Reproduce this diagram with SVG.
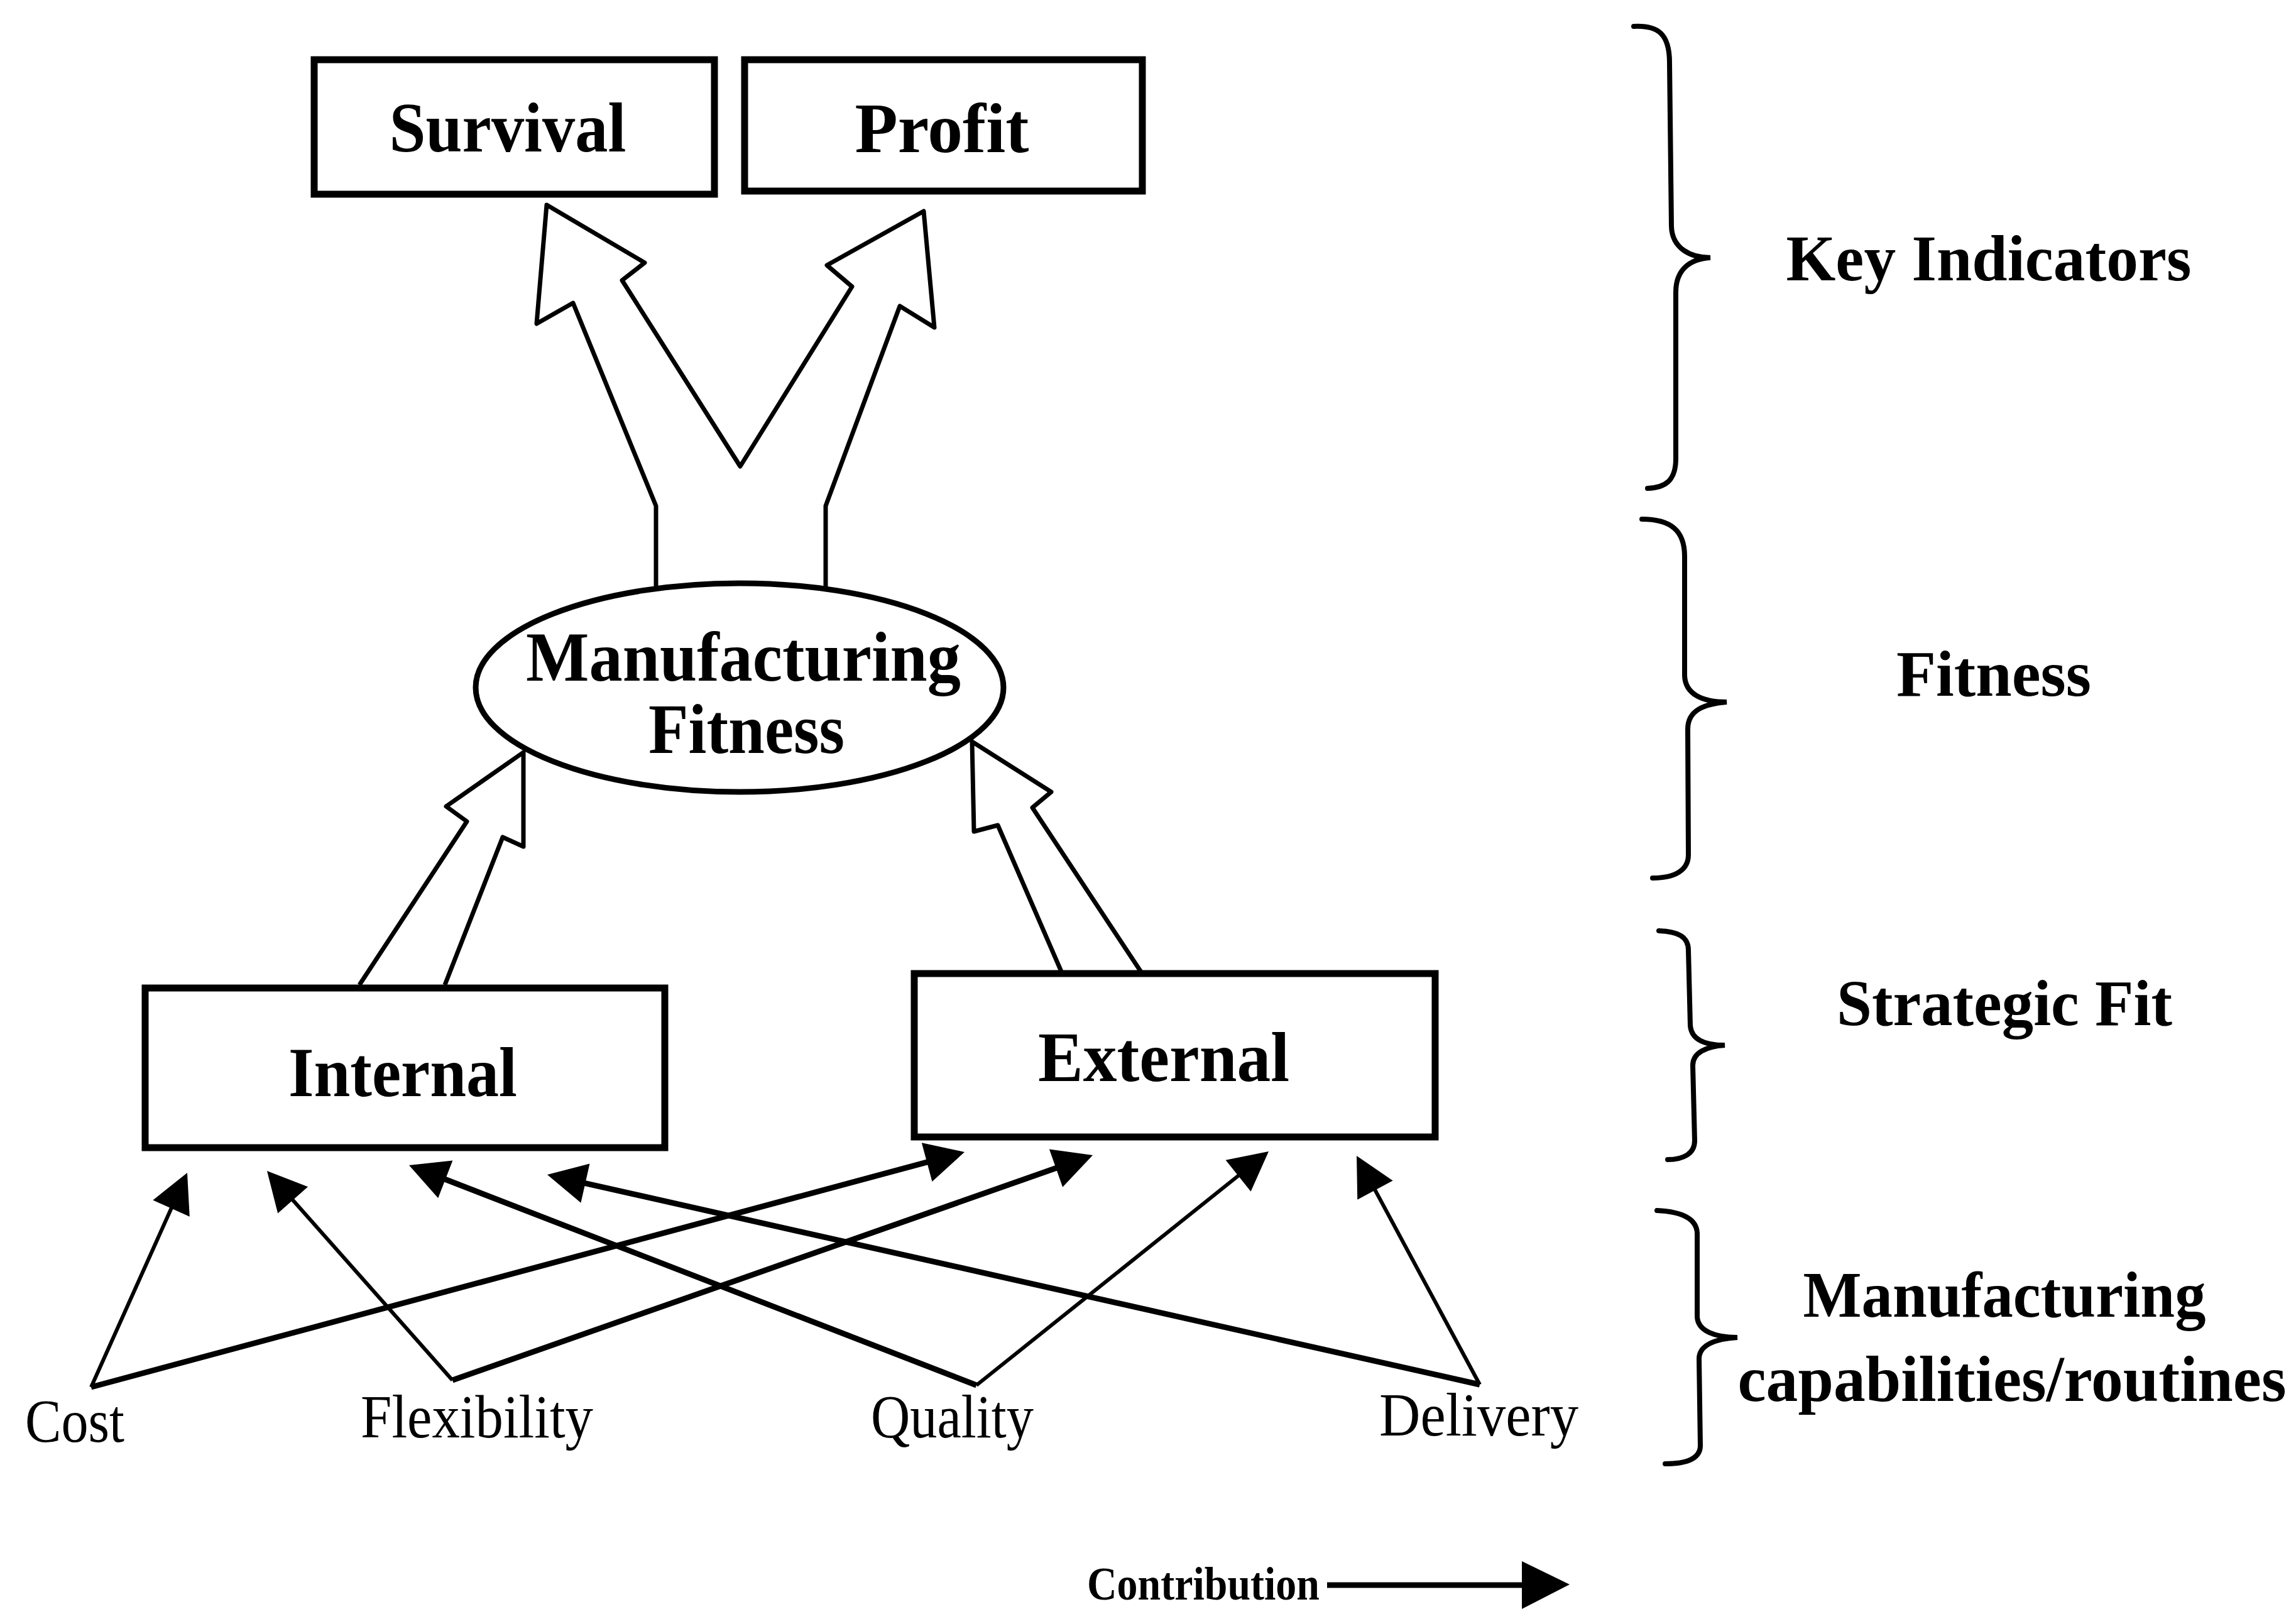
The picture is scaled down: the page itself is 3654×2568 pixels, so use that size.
<svg xmlns="http://www.w3.org/2000/svg" width="3654" height="2568" viewBox="0 0 3654 2568">
  <style>
    .box { fill: #fff; stroke: #000; stroke-width: 11; }
    .oval { fill: #fff; stroke: #000; stroke-width: 9; }
    .hollow { fill: none; stroke: #000; stroke-width: 7; stroke-linejoin: round; }
    .brace { fill: none; stroke: #000; stroke-width: 8; stroke-linecap: round; }
    .thick { stroke: #000; stroke-width: 9; fill: none; marker-end: url(#head); }
    .thin { stroke: #000; stroke-width: 6; fill: none; marker-end: url(#head); }
    .node { font-family: "Liberation Serif", "Times New Roman", serif; font-weight: bold; font-size: 112px; fill: #000; }
    .side { font-family: "Liberation Serif", "Times New Roman", serif; font-weight: bold; font-size: 104px; fill: #000; }
    .cap { font-family: "Liberation Serif", "Times New Roman", serif; font-size: 98px; fill: #000; }
    .legend { font-family: "Liberation Serif", "Times New Roman", serif; font-weight: bold; font-size: 74px; fill: #000; }
  </style>
  <defs>
    <marker id="head" markerUnits="userSpaceOnUse" markerWidth="70" markerHeight="70" refX="22" refY="32" orient="auto" overflow="visible">
      <path d="M0,0 L62,32 L0,64 z" fill="#000"/>
    </marker>
  </defs>

  <rect width="3654" height="2568" fill="#fff"/>

  <!-- key indicators -->
  <g id="survival">
    <rect class="box" x="500" y="95" width="637" height="214"/>
    <text class="node" x="808" y="241" text-anchor="middle" textLength="377" lengthAdjust="spacingAndGlyphs">Survival</text>
  </g>
  <g id="profit">
    <rect class="box" x="1185" y="95" width="633" height="209"/>
    <text class="node" x="1499" y="242" text-anchor="middle" textLength="277" lengthAdjust="spacingAndGlyphs">Profit</text>
  </g>

  <!-- fitness -->
  <g id="manufacturing-fitness">
    <ellipse class="oval" cx="1177" cy="1094" rx="420" ry="166"/>
    <text class="node" x="1183" y="1083" text-anchor="middle" textLength="692" lengthAdjust="spacingAndGlyphs">Manufacturing</text>
    <text class="node" x="1188" y="1198" text-anchor="middle" textLength="312" lengthAdjust="spacingAndGlyphs">Fitness</text>
  </g>

  <!-- strategic fit -->
  <g id="internal">
    <rect class="box" x="231" y="1572" width="827" height="254"/>
    <text class="node" x="641" y="1744" text-anchor="middle" textLength="364" lengthAdjust="spacingAndGlyphs">Internal</text>
  </g>
  <g id="external">
    <rect class="box" x="1455" y="1549" width="829" height="260"/>
    <text class="node" x="1852" y="1720" text-anchor="middle" textLength="400" lengthAdjust="spacingAndGlyphs">External</text>
  </g>

  <!-- capabilities -->
  <g id="cost"><text class="cap" x="40" y="2294" textLength="158" lengthAdjust="spacingAndGlyphs">Cost</text></g>
  <g id="flexibility"><text class="cap" x="574" y="2287" textLength="370" lengthAdjust="spacingAndGlyphs">Flexibility</text></g>
  <g id="quality"><text class="cap" x="1386" y="2287" textLength="259" lengthAdjust="spacingAndGlyphs">Quality</text></g>
  <g id="delivery"><text class="cap" x="2195" y="2284" textLength="317" lengthAdjust="spacingAndGlyphs">Delivery</text></g>

  <!-- connectors -->
  <g id="connectors">
    <!-- forked hollow arrow: fitness to survival and profit -->
    <path class="hollow" d="M1044,935 L1044,805 L912,482 L854,515 L870,326 L1026,418 L990,446 L1178,742 L1356,456 L1316,422 L1470,336 L1487,521 L1432,487 L1314,805 L1314,937"/>
    <!-- hollow arrows: internal / external fit to fitness -->
    <path class="hollow" d="M572,1567 L743,1307 L710,1283 L833,1197 L833,1347 L800,1332 L708,1567"/>
    <path class="hollow" d="M1690,1548 L1588,1313 L1550,1323 L1547,1180 L1673,1260 L1643,1285 L1817,1548"/>

    <!-- contributions of each capability -->
    <line class="thin" x1="145" y1="2207" x2="281.6" y2="1902.5"/>
    <line class="thick" x1="145" y1="2207" x2="1496.4" y2="1843.4"/>
    <line class="thin" x1="720" y1="2196" x2="451.5" y2="1892.9"/>
    <line class="thick" x1="720" y1="2196" x2="1701.3" y2="1851.3"/>
    <line class="thick" x1="1554" y1="2204" x2="688.3" y2="1868.5"/>
    <line class="thin" x1="1554" y1="2204" x2="1987.8" y2="1857"/>
    <line class="thick" x1="2355" y1="2203" x2="910" y2="1877.8"/>
    <line class="thin" x1="2355" y1="2203" x2="2178" y2="1874.2"/>
  </g>

  <!-- level braces and captions -->
  <g id="level-key-indicators">
    <path class="brace" d="M2600,42 C2640,40 2657,55 2657,100 L2660,360 C2661,395 2690,410 2722,410 C2688,412 2667,430 2667,465 L2667,730 C2667,765 2650,776 2622,777"/>
    <text class="side" x="3165" y="446" text-anchor="middle" textLength="645" lengthAdjust="spacingAndGlyphs">Key Indicators</text>
  </g>
  <g id="level-fitness">
    <path class="brace" d="M2613,826 C2660,826 2681,845 2681,885 L2681,1075 C2682,1105 2710,1117 2748,1117 C2712,1120 2686,1130 2686,1160 L2687,1360 C2687,1385 2665,1397 2630,1397"/>
    <text class="side" x="3173" y="1107" text-anchor="middle" textLength="310" lengthAdjust="spacingAndGlyphs">Fitness</text>
  </g>
  <g id="level-strategic-fit">
    <path class="brace" d="M2640,1481 C2670,1482 2687,1490 2687,1512 L2690,1632 C2692,1655 2715,1663 2745,1663 C2715,1665 2694,1675 2694,1695 L2697,1815 C2697,1835 2680,1845 2654,1845"/>
    <text class="side" x="3190" y="1631" text-anchor="middle" textLength="534" lengthAdjust="spacingAndGlyphs">Strategic Fit</text>
  </g>
  <g id="level-capabilities">
    <path class="brace" d="M2637,1926 C2680,1928 2700,1940 2701,1962 L2701,2095 C2702,2118 2730,2128 2765,2128 C2730,2130 2704,2140 2704,2162 L2706,2300 C2706,2320 2685,2329 2650,2329"/>
    <text class="side" x="3190" y="2095" text-anchor="middle" textLength="641" lengthAdjust="spacingAndGlyphs">Manufacturing</text>
    <text class="side" x="3202" y="2229" text-anchor="middle" textLength="873" lengthAdjust="spacingAndGlyphs">capabilities/routines</text>
  </g>

  <!-- legend -->
  <g id="legend">
    <text class="legend" x="1730" y="2545" textLength="370" lengthAdjust="spacingAndGlyphs">Contribution</text>
    <line x1="2112" y1="2522" x2="2426" y2="2522" stroke="#000" stroke-width="9"/>
    <path d="M2422,2484 L2498,2521 L2422,2560 z" fill="#000"/>
  </g>
</svg>
